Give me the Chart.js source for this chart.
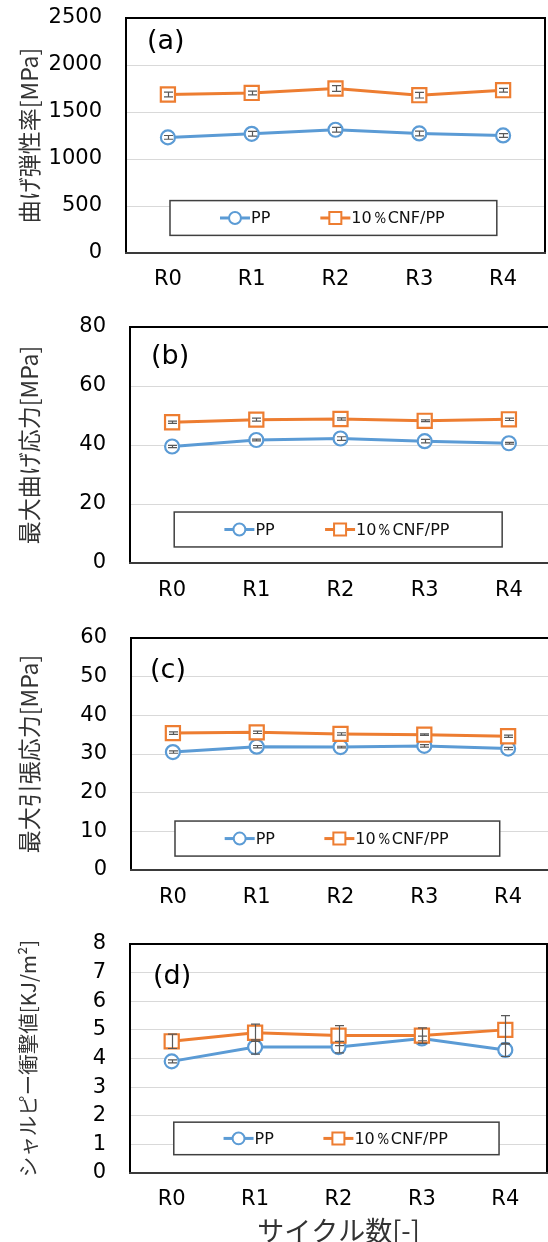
<!DOCTYPE html>
<html><head><meta charset="utf-8">
<script src="https://cdn.jsdelivr.net/npm/chart.js@4/dist/chart.umd.min.js"></script>
<style>
html,body{margin:0;padding:0;background:#fff;}
#wrap{position:relative;width:548px;height:1242px;overflow:hidden;background:#fff;}
canvas{position:absolute;left:0;}
</style></head><body>
<div id="wrap">
<canvas id="ca" width="548" height="300" style="top:0px"></canvas>
<canvas id="cb" width="556" height="315" style="top:300px"></canvas>
<canvas id="cc" width="556" height="300" style="top:615px"></canvas>
<canvas id="cd" width="550" height="335" style="top:915px"></canvas>
</div>
<script>
// ---- data ----
const categories = ['R0', 'R1', 'R2', 'R3', 'R4'];
const seriesNames = ['PP', '10％CNF/PP'];

// (a) 曲げ弾性率 [MPa]
const aTicks = [0, 500, 1000, 1500, 2000, 2500];
const aPP = [1230, 1268, 1311, 1272, 1251];
const aPPErr = [20, 25, 25, 25, 20];
const aCNF = [1686, 1703, 1750, 1679, 1732];
const aCNFErr = [25, 20, 30, 30, 20];

// (b) 最大曲げ応力 [MPa]
const bTicks = [0, 20, 40, 60, 80];
const bPP = [39.5, 41.7, 42.2, 41.3, 40.6];
const bPPErr = [0.4, 0.3, 0.6, 0.6, 0.3];
const bCNF = [47.7, 48.6, 48.8, 48.2, 48.7];
const bCNFErr = [0.4, 0.5, 0.4, 0.3, 0.4];

// (c) 最大引張応力 [MPa]
const cTicks = [0, 10, 20, 30, 40, 50, 60];
const cPP = [30.5, 31.9, 31.8, 32.1, 31.4];
const cPPErr = [0.3, 0.3, 0.2, 0.3, 0.3];
const cCNF = [35.4, 35.6, 35.2, 35.0, 34.6];
const cCNFErr = [0.3, 0.3, 0.3, 0.2, 0.3];

// (d) シャルピー衝撃値 [KJ/m2]
const dTicks = [0, 1, 2, 3, 4, 5, 6, 7, 8];
const dPP = [3.9, 4.4, 4.4, 4.7, 4.3];
const dPPErr = [0.05, 0.25, 0.2, 0.08, 0.23];
const dCNF = [4.6, 4.9, 4.8, 4.8, 5.0];
const dCNFErr = [0.25, 0.3, 0.35, 0.27, 0.5];

// ---- styles ----
const BLUE = '#5B9BD5', ORANGE = '#ED7D31';
const TICK_FONT = {family: '"DejaVu Sans", sans-serif', size: 21};
const CJK = '"Noto Sans CJK JP", "Noto Sans", sans-serif';

const deco = {
  id: 'deco',
  afterDatasetsDraw(chart) {
    const {ctx, scales: {x, y}} = chart;
    chart.data.datasets.forEach(ds => {
      if (!ds.errors) return;
      ctx.save();
      ctx.strokeStyle = '#595959';
      ctx.lineWidth = 1.2;
      ds.data.forEach((v, i) => {
        const e = ds.errors[i];
        const px = Math.round(x.getPixelForValue(i)) + 0.5;
        const t = y.getPixelForValue(v + e), b = y.getPixelForValue(v - e);
        ctx.beginPath();
        ctx.moveTo(px, t); ctx.lineTo(px, b);
        ctx.moveTo(px - 4.5, t); ctx.lineTo(px + 4.5, t);
        ctx.moveTo(px - 4.5, b); ctx.lineTo(px + 4.5, b);
        ctx.stroke();
      });
      ctx.restore();
    });
  },
  afterDraw(chart, args, o) {
    const {ctx, chartArea: a} = chart;
    ctx.save();
    // plot border
    ctx.lineWidth = 2;
    ctx.strokeStyle = '#000';
    ctx.beginPath();
    ctx.moveTo(a.left, a.bottom); ctx.lineTo(a.left, a.top);
    ctx.lineTo(a.right, a.top); ctx.lineTo(a.right, a.bottom);
    ctx.stroke();
    ctx.strokeStyle = '#3a3a3a';
    ctx.beginPath();
    ctx.moveTo(a.left - 1, a.bottom); ctx.lineTo(a.right + 1, a.bottom);
    ctx.stroke();
    // panel label
    ctx.fillStyle = '#000';
    ctx.font = '27px "DejaVu Sans", sans-serif';
    ctx.textBaseline = 'middle';
    ctx.textAlign = 'left';
    ctx.fillText(o.label, a.left + o.lx, a.top + o.ly);
    // boxed legend
    const W = a.right - a.left, H = a.bottom - a.top;
    const bx0 = a.left + W * o.box[0], bx1 = a.left + W * o.box[2];
    const by0 = a.top + H * o.box[1], by1 = a.top + H * o.box[3];
    ctx.fillStyle = '#fff';
    ctx.fillRect(bx0, by0, bx1 - bx0, by1 - by0);
    ctx.lineWidth = 1.5;
    ctx.strokeStyle = '#404040';
    ctx.strokeRect(bx0, by0, bx1 - bx0, by1 - by0);
    const cy = (by0 + by1) / 2;
    const starts = [0.153, 0.46];
    chart.data.datasets.forEach((ds, i) => {
      const sx = bx0 + (bx1 - bx0) * starts[i];
      ctx.strokeStyle = ds.borderColor;
      ctx.lineWidth = 3;
      ctx.beginPath(); ctx.moveTo(sx, cy); ctx.lineTo(sx + 30, cy); ctx.stroke();
      ctx.fillStyle = '#fff';
      ctx.lineWidth = 2;
      Chart.helpers.drawPoint(ctx, {pointStyle: ds.pointStyle, radius: ds.pointRadius * 0.85, borderWidth: 2, rotation: 0}, sx + 15, cy);
      ctx.fillStyle = '#111';
      ctx.font = '16px "DejaVu Sans", sans-serif';
      ctx.textAlign = 'left';
      ctx.textBaseline = 'middle';
      ctx.fillText(ds.label, sx + 31, cy + 1);
    });
    ctx.restore();
  }
};

function makeChart(id, cfg) {
  const datasets = [
    {label: seriesNames[0], data: cfg.pp, errors: cfg.ppErr, borderColor: BLUE, backgroundColor: BLUE,
     pointStyle: 'circle', pointRadius: 7, pointBorderWidth: 2.2, pointBackgroundColor: '#fff',
     pointBorderColor: BLUE, borderWidth: 3, order: 1},
    {label: seriesNames[1], data: cfg.cnf, errors: cfg.cnfErr, borderColor: ORANGE, backgroundColor: ORANGE,
     pointStyle: 'rect', pointRadius: 10, pointBorderWidth: 2.2, pointBackgroundColor: '#fff',
     pointBorderColor: ORANGE, borderWidth: 3, order: 0}
  ];
  const ticks = cfg.ticks;
  return new Chart(document.getElementById(id), {
    type: 'line',
    data: {labels: categories, datasets},
    plugins: [deco],
    options: {
      responsive: false,
      animation: false,
      layout: {autoPadding: false, padding: {left: 0, top: cfg.top, right: cfg.right, bottom: 0}},
      plugins: {
        legend: {display: false},
        tooltip: {enabled: false},
        deco: {label: cfg.label, lx: cfg.lx, ly: cfg.ly, box: cfg.box}
      },
      scales: {
        x: {
          offset: true,
          grid: {display: false, drawTicks: false},
          border: {display: false},
          ticks: {font: TICK_FONT, color: '#000', padding: cfg.xpad, maxRotation: 0, autoSkip: false},
          title: cfg.xtitle ? {display: true, text: cfg.xtitle, font: {family: CJK, size: 27}, color: '#333', padding: {top: 0, bottom: 3}} : {display: false},
          afterFit(s) { s.height = cfg.xh; }
        },
        y: {
          min: ticks[0], max: ticks[ticks.length - 1],
          afterBuildTicks(axis) { axis.ticks = ticks.map(v => ({value: v})); },
          grid: {drawTicks: true, tickLength: 24, tickColor: 'rgba(0,0,0,0)', lineWidth: 1,
                 color: c => (c.tick && (c.tick.value === ticks[0] || c.tick.value === ticks[ticks.length - 1])) ? 'rgba(0,0,0,0)' : '#D9D9D9'},
          border: {display: false},
          ticks: {font: TICK_FONT, color: '#000', padding: 0, callback: v => String(v)},
          title: {display: true, text: cfg.ytitle, font: {family: CJK, size: cfg.ytsize}, color: '#333', padding: {top: cfg.ytpad, bottom: 0}},
          afterFit(s) { s.width = cfg.yw; }
        }
      }
    }
  });
}

makeChart('ca', {pp: aPP, ppErr: aPPErr, cnf: aCNF, cnfErr: aCNFErr, ticks: aTicks,
  top: 18, right: 3, yw: 126, xh: 47, xpad: 14, ytitle: '曲げ弾性率[MPa]', ytsize: 23, ytpad: 15,
  label: '(a)', lx: 21, ly: 24, box: [0.105, 0.777, 0.885, 0.925]});
makeChart('cb', {pp: bPP, ppErr: bPPErr, cnf: bCNF, cnfErr: bCNFErr, ticks: bTicks,
  top: 27, right: 5, yw: 130, xh: 52, xpad: 15, ytitle: '最大曲げ応力[MPa]', ytsize: 23, ytpad: 15,
  label: '(b)', lx: 21, ly: 30, box: [0.105, 0.784, 0.884, 0.932]});
makeChart('cc', {pp: cPP, ppErr: cPPErr, cnf: cCNF, cnfErr: cCNFErr, ticks: cTicks,
  top: 23, right: 6, yw: 131, xh: 45, xpad: 15, ytitle: '最大引張応力[MPa]', ytsize: 23, ytpad: 15,
  label: '(c)', lx: 19, ly: 33, box: [0.105, 0.789, 0.88, 0.94]});
makeChart('cd', {pp: dPP, ppErr: dPPErr, cnf: dCNF, cnfErr: dCNFErr, ticks: dTicks,
  top: 29, right: 3, yw: 130, xh: 77, xpad: 14, ytitle: 'シャルピー衝撃値[KJ/m²]', ytsize: 20.5, ytpad: 16,
  xtitle: 'サイクル数[-]',
  label: '(d)', lx: 23, ly: 33, box: [0.105, 0.778, 0.885, 0.92]});
</script>
</body></html>
